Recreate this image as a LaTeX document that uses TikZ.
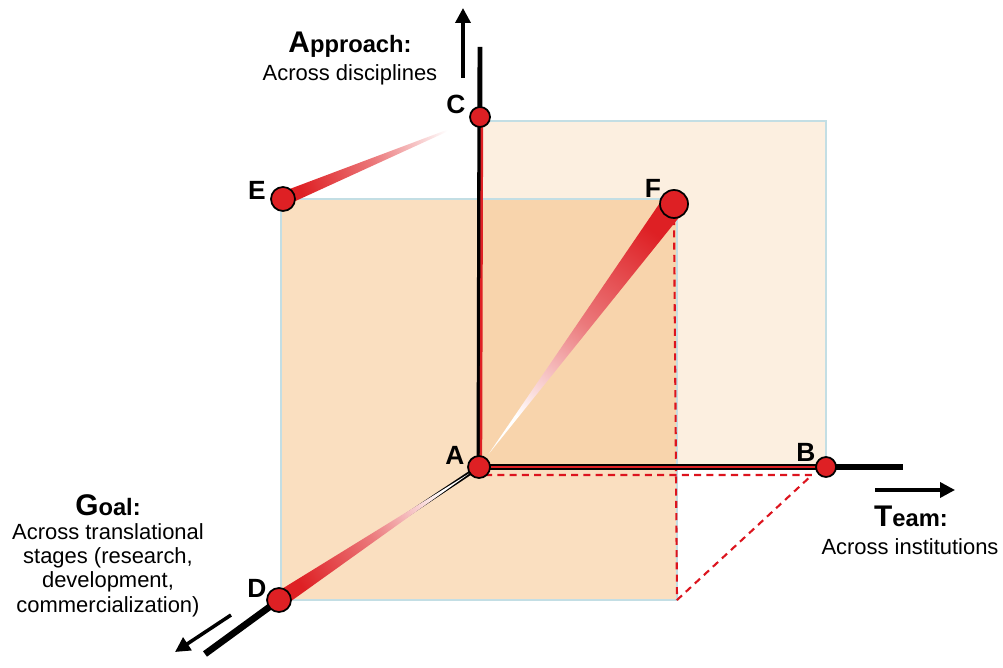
\documentclass[tikz,border=0pt]{standalone}
\usepackage{fontspec}
\setmainfont{Liberation Sans}
\usetikzlibrary{arrows.meta,calc,positioning}

\definecolor{ptred}{RGB}{222,32,36}
\definecolor{planeorange}{RGB}{240,160,70}
\definecolor{planeedge}{RGB}{195,222,228}
\definecolor{dashred}{RGB}{220,20,30}

\newcommand*{\bigfont}{\fontsize{17}{19}\selectfont}
\newcommand*{\titlefont}{\fontsize{13.5}{15}\selectfont\bfseries}
\newcommand*{\ptfont}{\fontsize{15}{17}\selectfont\bfseries}
\newcommand*{\txtfont}{\fontsize{12.5}{13.9}\selectfont}

\begin{document}
\begin{tikzpicture}
[
	x=0.02cm, y=-0.02cm,
	point/.style={circle,draw=black,line width=1pt,fill=ptred,inner sep=0pt,minimum size=#1},
	point/.default=0.44cm,
	ptlabel/.style={font=\ptfont,inner sep=0pt},
	plane/.style={fill=planeorange,fill opacity=#1,draw=planeedge,line width=0.8pt},
	guide/.style={dashred,line width=1.2pt,dash pattern=on 4pt off 3pt},
	axisline/.style={black,line width=#1},
	redline/.style={ptred,line width=1.4pt},
	dirarrow/.style={-{Triangle[length=8.5pt,width=8.5pt]},line width=2pt},
	beam/.style={top color=white,bottom color=ptred,middle color=ptred!60!white,shading angle=#1},
	axistitle/.style={font=\titlefont,inner sep=0pt},
	axistext/.style={font=\txtfont,align=center,inner sep=0pt}
]

	\useasboundingbox (0,0) rectangle (1003,668);

	% point positions
	\coordinate (pA) at (479,467);
	\coordinate (pB) at (826,467);
	\coordinate (pC) at (480,117);
	\coordinate (pD) at (279,600);
	\coordinate (pE) at (283,199);
	\coordinate (pF) at (674,204);

	% planes
	\draw[plane=0.17] (479,121) rectangle (pB);
	\draw[plane=0.34] (281,199) rectangle (677,600);
	\coordinate (frontBR) at (677,600);

	% dashed guides
	\coordinate (gA) at (485,475);
	\coordinate (gB) at (812,475);
	\draw[guide] (gA) -- (gB) -- (frontBR);
	\draw[guide] ([yshift=-8pt]pF) -- (frontBR);

	% axes
	\coordinate (vTop) at (480,47);
	\coordinate (hEnd) at (903,467);
	\coordinate (dEnd) at (205,654);
	\draw[axisline=2.8pt] (vTop) -- (pA);
	\draw[axisline=2.9pt] (pA) -- (hEnd);
	\draw[axisline=2.4pt] (pA) -- (pD);
	\draw[axisline=3.8pt] (pD) -- (dEnd);
	\draw[redline] ([xshift=1.1pt]pC) -- ([xshift=1.1pt]pA);
	\draw[redline] (pA) -- (pB);

	% direction arrows
	\coordinate (upS) at (463,78);
	\coordinate (upE) at (463,8);
	\coordinate (rtS) at (875,490);
	\coordinate (rtE) at (955,490);
	\coordinate (dnS) at (231,615);
	\coordinate (dnE) at (175,652);
	\draw[dirarrow] (upS) -- (upE);
	\draw[dirarrow] (rtS) -- (rtE);
	\draw[dirarrow] (dnS) -- (dnE);

	% tapered beams
	\shade[beam=-67.4] ($(pE)!4pt!90:(pC)$) -- ($(pE)!0.95!(pC)$) -- ($(pE)!4pt!-90:(pC)$) -- cycle;
	\shade[beam=143.4] ($(pF)!7pt!90:(pA)$) -- ($(pF)!0.95!(pA)$) -- ($(pF)!7pt!-90:(pA)$) -- cycle;
	\shade[beam=-56.4] ($(pD)!4.5pt!90:(pA)$) -- ($(pD)!0.96!(pA)$) -- ($(pD)!4.5pt!-90:(pA)$) -- cycle;

	% points
	\node[point] (A) at (pA) {};
	\node[point=0.4cm] (B) at (pB) {};
	\node[point=0.4cm] (C) at (pC) {};
	\node[point=0.48cm] (D) at (pD) {};
	\node[point=0.48cm] (E) at (pE) {};
	\node[point=0.56cm] (F) at (pF) {};

	\node[ptlabel] (lblA) at ($(pA)+(-24,-12)$) {A};
	\node[ptlabel] (lblB) at ($(pB)+(-20,-15)$) {B};
	\node[ptlabel] (lblC) at ($(pC)+(-24,-13)$) {C};
	\node[ptlabel] (lblD) at ($(pD)+(-22,-12)$) {D};
	\node[ptlabel] (lblE) at ($(pE)+(-26,-9)$) {E};
	\node[ptlabel] (lblF) at ($(pF)+(-21,-16)$) {F};

	% axis titles
	\node[axistitle] (approach) at (350,45) {{\bigfont A}pproach:};
	\node[axistext] (approachTxt) at (350,75) {Across disciplines};
	\node[axistitle] (team) at (911,516) {{\bigfont T}eam:};
	\node[axistext] (teamTxt) at (910,547) {Across institutions};
	\node[axistitle] (goal) at (108,505) {{\bigfont G}oal:};
	\node[axistext] (goalTxt) at (108,570) {Across translational\\stages (research,\\development,\\commercialization)};

\end{tikzpicture}
\end{document}
